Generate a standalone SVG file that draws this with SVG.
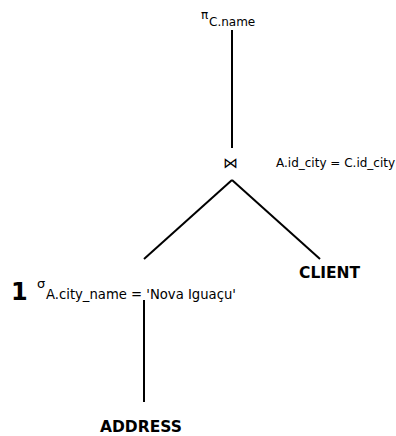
<svg xmlns="http://www.w3.org/2000/svg" width="396" height="436" viewBox="0 0 396 436">
<style>
.t{font-family:"DejaVu Sans",sans-serif;fill:#000}
.b{font-family:"DejaVu Sans",sans-serif;font-weight:bold;fill:#000}
.l{stroke:#000;stroke-width:2;fill:none}
</style>
<rect width="396" height="436" fill="#fff"/>
<g id="connectors">
<line class="l" x1="232" y1="30" x2="232" y2="148"/>
<line class="l" x1="232" y1="180" x2="144" y2="259"/>
<line class="l" x1="232" y1="180" x2="320" y2="259"/>
<line class="l" x1="144" y1="300" x2="144" y2="402"/>
</g>
<g id="projection">
<text class="t" x="201" y="19" font-size="12">π</text>
<text class="t" x="209" y="26" font-size="12">C.name</text>
</g>
<g id="join">
<text class="t" x="223" y="168" font-size="15">⋈</text>
<text class="t" x="276" y="167" font-size="12">A.id_city = C.id_city</text>
</g>
<g id="client">
<text class="b" x="299" y="278" font-size="15.5">CLIENT</text>
</g>
<g id="selection">
<text class="b" x="11" y="300" font-size="24">1</text>
<text class="t" x="37" y="288" font-size="13">σ</text>
<text class="t" x="46" y="299" font-size="13.2">A.city_name = 'Nova Iguaçu'</text>
</g>
<g id="address">
<text class="b" x="100" y="432" font-size="15.5">ADDRESS</text>
</g>
</svg>
